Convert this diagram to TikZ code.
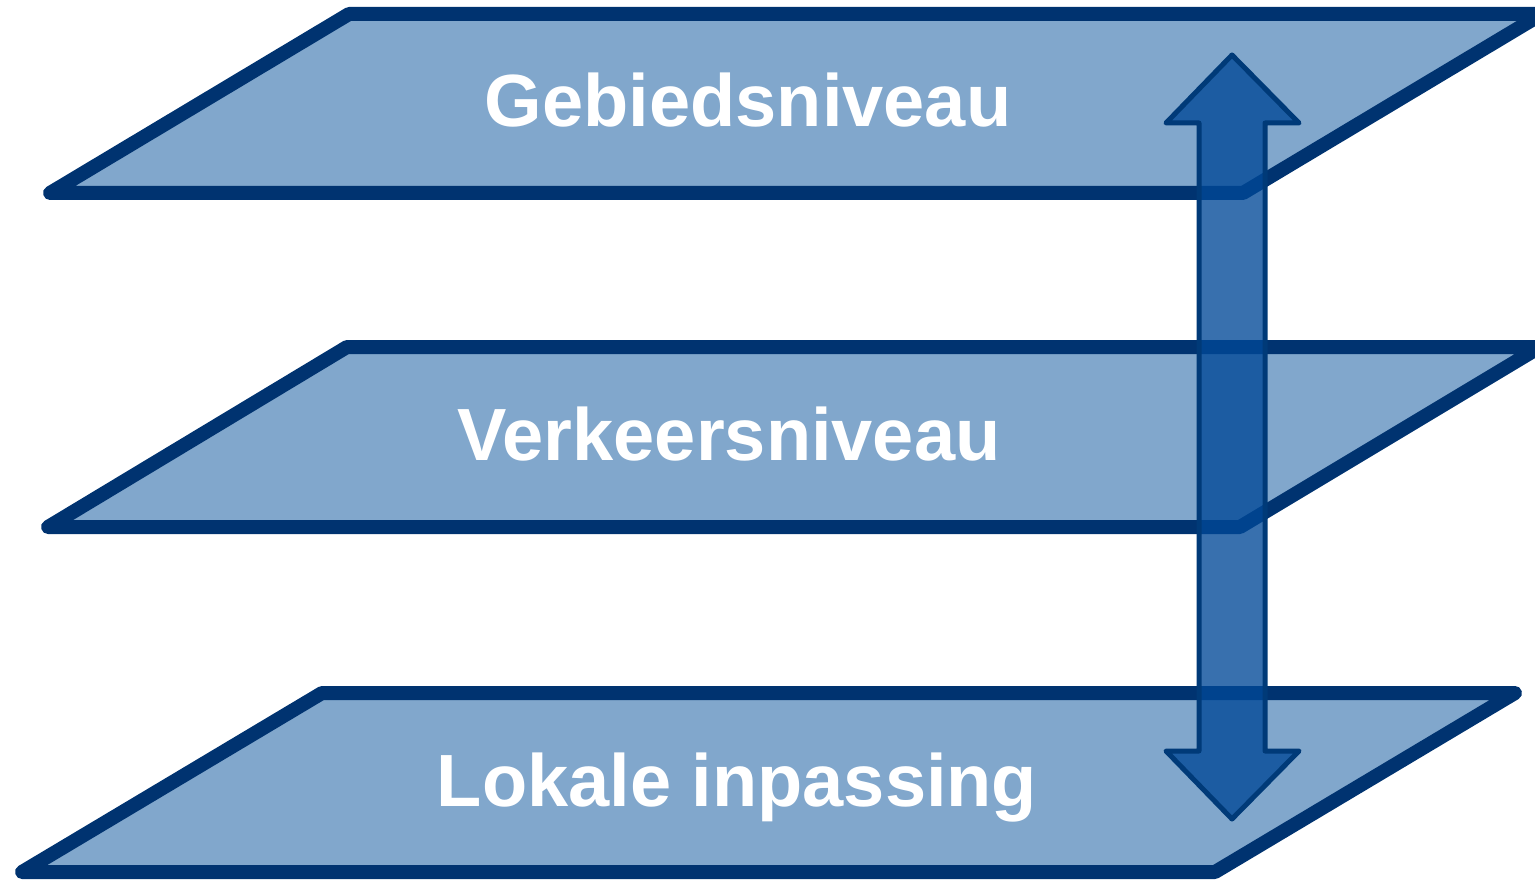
\documentclass[tikz,border=0pt]{standalone}
\usepackage{fontspec}
\setmainfont{Liberation Sans}
\begin{document}
\begin{tikzpicture}[x=1pt,y=-1pt,
  plane/.style={draw=planeline,fill=planefill,line width=14pt,line join=round,line cap=round},
  lbl/.style={text=white,font=\fontsize{74}{80}\selectfont\bfseries,anchor=base,inner sep=0pt},
  arrowbody/.style={draw=arrowline,line width=5pt,line join=round,fill=arrowfill,fill opacity=0.78}]
\definecolor{planeline}{RGB}{0,51,112}
\definecolor{planefill}{RGB}{129,167,204}
\definecolor{arrowline}{RGB}{0,58,120}
\definecolor{arrowfill}{RGB}{0,72,151}
\useasboundingbox (0,0) rectangle (1535,880);
\clip (0,0) rectangle (1535,880);
% planes
\draw[plane] (50,193) -- (1243,193) -- (1542,14) -- (349,14) -- cycle;
\draw[plane] (48,527) -- (1240,527) -- (1540,347) -- (347,347) -- cycle;
\draw[plane] (22,872) -- (1215,872) -- (1515,693) -- (322,693) -- cycle;
% labels
\node[lbl] (top) at (748,127) {Gebiedsniveau};
\node[lbl] (mid) at (729,460) {Verkeersniveau};
\node[lbl] (bot) at (737,806) {Lokale inpassing};
% double arrow
\draw[arrowbody] (1232,55) -- (1299,123) -- (1265,123) -- (1265,751) -- (1299,751)
  -- (1232,819) -- (1166,751) -- (1199,751) -- (1199,123) -- (1166,123) -- cycle;
\end{tikzpicture}
\end{document}
